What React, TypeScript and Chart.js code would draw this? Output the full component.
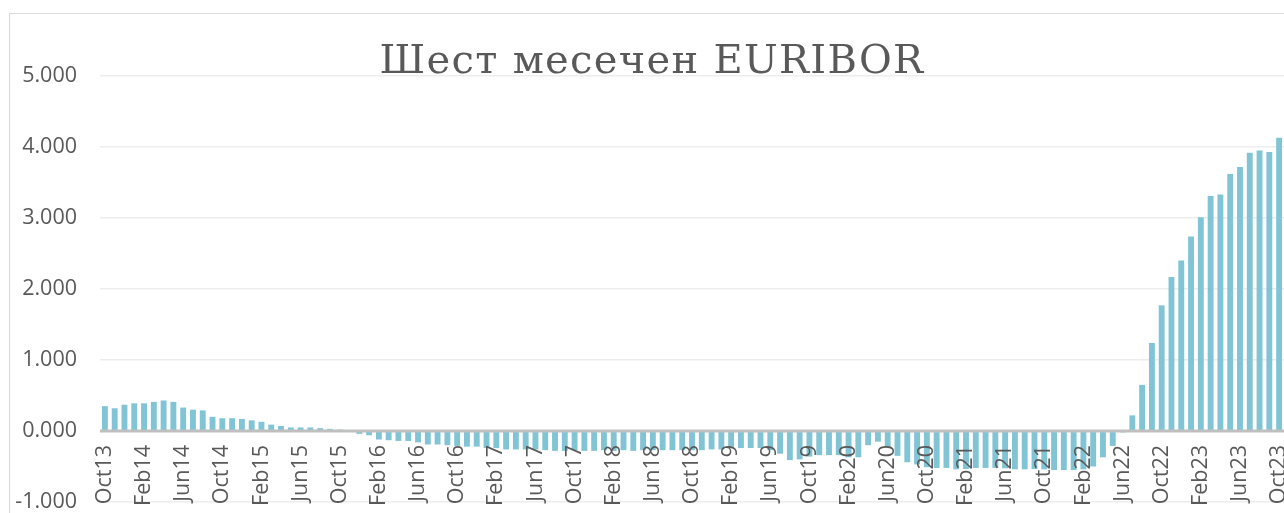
import React, { useEffect, useRef } from 'react';
import { Chart, registerables } from 'chart.js';

Chart.register(...registerables);

const TITLE = 'Шест месечен EURIBOR';

const CATEGORIES = [
  'Oct13', 'Nov13', 'Dec13',
  'Jan14', 'Feb14', 'Mar14', 'Apr14', 'May14', 'Jun14', 'Jul14', 'Aug14', 'Sep14', 'Oct14', 'Nov14', 'Dec14',
  'Jan15', 'Feb15', 'Mar15', 'Apr15', 'May15', 'Jun15', 'Jul15', 'Aug15', 'Sep15', 'Oct15', 'Nov15', 'Dec15',
  'Jan16', 'Feb16', 'Mar16', 'Apr16', 'May16', 'Jun16', 'Jul16', 'Aug16', 'Sep16', 'Oct16', 'Nov16', 'Dec16',
  'Jan17', 'Feb17', 'Mar17', 'Apr17', 'May17', 'Jun17', 'Jul17', 'Aug17', 'Sep17', 'Oct17', 'Nov17', 'Dec17',
  'Jan18', 'Feb18', 'Mar18', 'Apr18', 'May18', 'Jun18', 'Jul18', 'Aug18', 'Sep18', 'Oct18', 'Nov18', 'Dec18',
  'Jan19', 'Feb19', 'Mar19', 'Apr19', 'May19', 'Jun19', 'Jul19', 'Aug19', 'Sep19', 'Oct19', 'Nov19', 'Dec19',
  'Jan20', 'Feb20', 'Mar20', 'Apr20', 'May20', 'Jun20', 'Jul20', 'Aug20', 'Sep20', 'Oct20', 'Nov20', 'Dec20',
  'Jan21', 'Feb21', 'Mar21', 'Apr21', 'May21', 'Jun21', 'Jul21', 'Aug21', 'Sep21', 'Oct21', 'Nov21', 'Dec21',
  'Jan22', 'Feb22', 'Mar22', 'Apr22', 'May22', 'Jun22', 'Jul22', 'Aug22', 'Sep22', 'Oct22', 'Nov22', 'Dec22',
  'Jan23', 'Feb23', 'Mar23', 'Apr23', 'May23', 'Jun23', 'Jul23', 'Aug23', 'Sep23', 'Oct23',
];

const V_2013 = [0.35, 0.32, 0.37];
const V_2014 = [0.39, 0.39, 0.41, 0.43, 0.41, 0.33, 0.30, 0.29, 0.20, 0.18, 0.18, 0.17];
const V_2015 = [0.15, 0.13, 0.09, 0.07, 0.05, 0.05, 0.05, 0.04, 0.03, 0.02, -0.01, -0.04];
const V_2016 = [-0.06, -0.12, -0.13, -0.14, -0.14, -0.16, -0.19, -0.19, -0.20, -0.21, -0.22, -0.22];
const V_2017 = [-0.24, -0.24, -0.26, -0.26, -0.26, -0.26, -0.27, -0.28, -0.28, -0.27, -0.28, -0.28];
const V_2018 = [-0.27, -0.28, -0.27, -0.28, -0.27, -0.27, -0.27, -0.27, -0.27, -0.27, -0.27, -0.26];
const V_2019 = [-0.26, -0.23, -0.24, -0.24, -0.24, -0.27, -0.32, -0.41, -0.40, -0.36, -0.34, -0.34];
const V_2020 = [-0.34, -0.37, -0.37, -0.20, -0.15, -0.22, -0.35, -0.44, -0.47, -0.51, -0.52, -0.52];
const V_2021 = [-0.54, -0.535, -0.52, -0.52, -0.52, -0.525, -0.54, -0.54, -0.535, -0.54, -0.55, -0.55];
const V_2022 = [-0.55, -0.54, -0.50, -0.37, -0.21, -0.02, 0.22, 0.65, 1.24, 1.77, 2.17, 2.40];
const V_2023 = [2.74, 3.01, 3.31, 3.33, 3.62, 3.72, 3.92, 3.95, 3.93, 4.13];

const VALUES = [
  ...V_2013, ...V_2014, ...V_2015, ...V_2016, ...V_2017, ...V_2018,
  ...V_2019, ...V_2020, ...V_2021, ...V_2022, ...V_2023,
];

const TICK_LABELS = [
  'Oct13', 'Feb14', 'Jun14', 'Oct14', 'Feb15', 'Jun15', 'Oct15', 'Feb16', 'Jun16', 'Oct16',
  'Feb17', 'Jun17', 'Oct17', 'Feb18', 'Jun18', 'Oct18', 'Feb19', 'Jun19', 'Oct19', 'Feb20',
  'Jun20', 'Oct20', 'Feb21', 'Jun21', 'Oct21', 'Feb22', 'Jun22', 'Oct22', 'Feb23', 'Jun23', 'Oct23',
];

const Y_MIN = -1;
const Y_MAX = 5;
const Y_STEP = 1;

const BAR_COLOR = '#80C4D6';
const TEXT_COLOR = '#595959';
const GRID_COLOR = '#EDEDED';
const AXIS_COLOR = '#BFBFBF';
const TICK_FONT = 'Open Sans';
const TICK_SIZE = 21.5;

export default function App() {
  const canvasRef = useRef<HTMLCanvasElement | null>(null);

  useEffect(() => {
    const canvas = canvasRef.current;
    if (!canvas) return;

    const overlay = {
      id: 'overlay',
      afterDatasetsDraw(chart: any) {
        const { ctx, chartArea, scales } = chart;
        const xs = scales.x;
        const ys = scales.y;
        const y0 = ys.getPixelForValue(0);
        ctx.save();
        ctx.strokeStyle = AXIS_COLOR;
        ctx.lineWidth = 3;
        ctx.beginPath();
        ctx.moveTo(chartArea.left, y0);
        ctx.lineTo(chartArea.right, y0);
        ctx.stroke();

        ctx.fillStyle = TEXT_COLOR;
        ctx.font = `${TICK_SIZE}px "${TICK_FONT}"`;
        ctx.textAlign = 'right';
        ctx.textBaseline = 'middle';
        for (const lab of TICK_LABELS) {
          const idx = CATEGORIES.indexOf(lab);
          const px = xs.getPixelForValue(idx);
          ctx.save();
          ctx.translate(px, y0 + 14);
          ctx.rotate(-Math.PI / 2);
          ctx.fillText(lab, 0, 0);
          ctx.restore();
        }
        ctx.restore();
      },
      afterDraw(chart: any) {
        const { ctx } = chart;
        ctx.save();
        ctx.fillStyle = TEXT_COLOR;
        ctx.font = '40px "DejaVu Serif"';
        (ctx as any).letterSpacing = '1.3px';
        ctx.textAlign = 'center';
        ctx.textBaseline = 'alphabetic';
        ctx.fillText(TITLE, chart.width / 2, 58.5);
        (ctx as any).letterSpacing = '0px';
        ctx.restore();
      },
    };

    const chart = new Chart(canvas, {
      type: 'bar',
      data: {
        labels: CATEGORIES,
        datasets: [
          {
            data: VALUES,
            backgroundColor: BAR_COLOR,
            borderWidth: 0,
            barPercentage: 0.6,
            categoryPercentage: 1,
          },
        ],
      },
      options: {
        responsive: false,
        animation: false,
        devicePixelRatio: 1,
        layout: { padding: { left: 0, right: 10, top: 62, bottom: 32 } },
        plugins: {
          legend: { display: false },
          title: { display: false },
          tooltip: { enabled: false },
        },
        scales: {
          x: {
            display: false,
            offset: true,
            grid: { display: false },
          },
          y: {
            min: Y_MIN,
            max: Y_MAX,
            ticks: {
              stepSize: Y_STEP,
              padding: 3,
              color: TEXT_COLOR,
              font: { family: TICK_FONT, size: TICK_SIZE },
              callback: (v: any) => Number(v).toFixed(3),
            },
            grid: {
              drawTicks: true,
              tickLength: 20,
              tickColor: 'rgba(0,0,0,0)',
              color: (c: any) => (c.tick && c.tick.value === 0 ? 'rgba(0,0,0,0)' : GRID_COLOR),
              lineWidth: 1.5,
            },
            border: { display: false },
            afterFit: (s: any) => {
              s.width = 90;
            },
          },
        },
      },
      plugins: [overlay],
    });

    return () => chart.destroy();
  }, []);

  return (
    <div
      style={{
        position: 'fixed',
        left: 0,
        top: 0,
        width: 1284,
        height: 513,
        overflow: 'hidden',
        background: '#ffffff',
      }}
    >
      <div
        style={{
          position: 'absolute',
          left: 9,
          top: 13,
          width: 1400,
          height: 600,
          border: '1px solid #D9D9D9',
          boxSizing: 'border-box',
        }}
      />
      <canvas
        ref={canvasRef}
        width={1284}
        height={520}
        style={{ position: 'absolute', left: 10, top: 14, width: 1284, height: 520 }}
      />
    </div>
  );
}
